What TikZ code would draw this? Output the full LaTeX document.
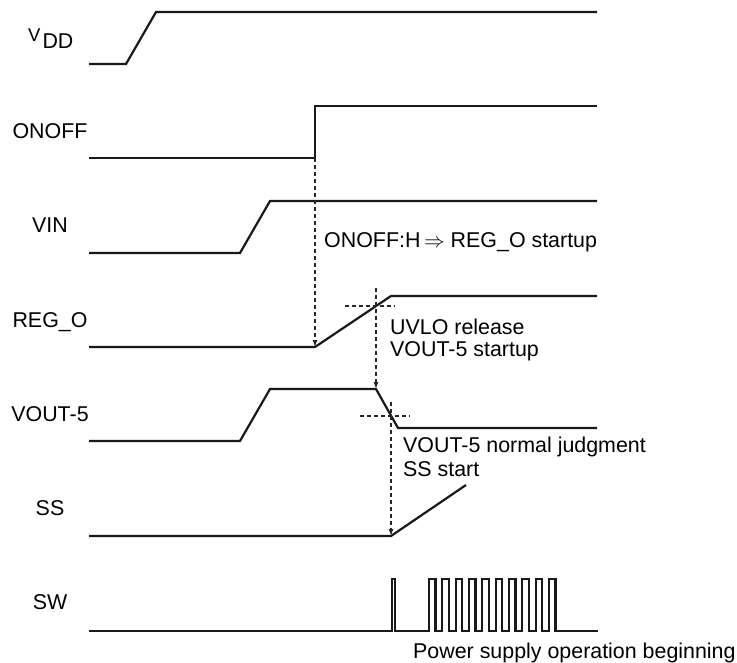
\documentclass[tikz,border=0pt]{standalone}
\usepackage{fontspec}
\setmainfont{Liberation Sans}
\usetikzlibrary{arrows.meta}
\begin{document}
\begin{tikzpicture}[x=1pt,y=-1pt,
  sig/.style={line width=2.2pt,line join=miter,line cap=butt,black!90},
  guide/.style={line width=1.1pt,dash pattern=on 4pt off 3pt,black!85},
  guidearrow/.style={guide,-{Latex[length=7pt,width=5pt]}},
  lbl/.style={inner sep=0pt,anchor=base,font=\fontsize{21.4}{25}\selectfont},
  note/.style={inner sep=0pt,anchor=base west,font=\fontsize{21.4}{23}\selectfont}]
\useasboundingbox (0,0) rectangle (737,662);
% labels
\node[inner sep=0pt,anchor=base west,font=\fontsize{21.4}{25}\selectfont] (lvdd) at (28,48) {\raisebox{7pt}{\fontsize{18.5}{18.5}\selectfont V}\kern2pt DD};
\node[lbl] (lonoff) at (50,138) {ONOFF};
\node[lbl] (lvin) at (50,232) {VIN};
\node[lbl] (lrego) at (50,327) {REG\_O};
\node[lbl] (lvout) at (50,421) {VOUT-5};
\node[lbl] (lss) at (50,515) {SS};
\node[lbl] (lsw) at (50,609) {SW};
% signals
\draw[sig] (89,64) -- (126,64) -- (156,12) -- (597,12);
\draw[sig] (89,158) -- (315,158) -- (315,106) -- (597,106);
\draw[sig] (89,253) -- (240,253) -- (270,201) -- (597,201);
\draw[sig] (89,347) -- (315,347) -- (391,296) -- (597,296);
\draw[sig] (89,441) -- (240,441) -- (270,389) -- (376,389) -- (398,428) -- (597,428);
\draw[sig] (89,536) -- (391,536) -- (466,485);
\draw[sig] (89,631) -- (392,631) -- (392,579) -- (395,579) -- (395,631) -- (429,631)
  \foreach \k in {0,...,9} { -- ({429+13.33*\k},631) -- ({429+13.33*\k},579) -- ({435.5+13.33*\k},579) -- ({435.5+13.33*\k},631) }
  -- (598,631);
% guides
\coordinate (onoffstep) at (315,158);
\coordinate (regstart) at (315,347);
\coordinate (regcrossTop) at (376,288);
\coordinate (voutfall) at (376,389);
\coordinate (voutcrossTop) at (391,402);
\coordinate (ssstart) at (391,536);
\draw[guidearrow] (onoffstep) -- (regstart);
\draw[guidearrow] (regcrossTop) -- (voutfall);
\draw[guide] (345,306) -- (395,306);
\draw[guidearrow] (voutcrossTop) -- (ssstart);
\draw[guide] (360,416) -- (410,416);
% annotations
\node[note] (n1) at (324,247) {ONOFF:H\,$\Rightarrow$ REG\_O startup};
\node[note] (n2a) at (390,334) {UVLO release};
\node[note] (n2b) at (390,356) {VOUT-5 startup};
\node[note] (n3a) at (403,452) {VOUT-5 normal judgment};
\node[note] (n3b) at (403,476) {SS start};
\node[note] (n4) at (413,658) {Power supply operation beginning};
\end{tikzpicture}
\end{document}
